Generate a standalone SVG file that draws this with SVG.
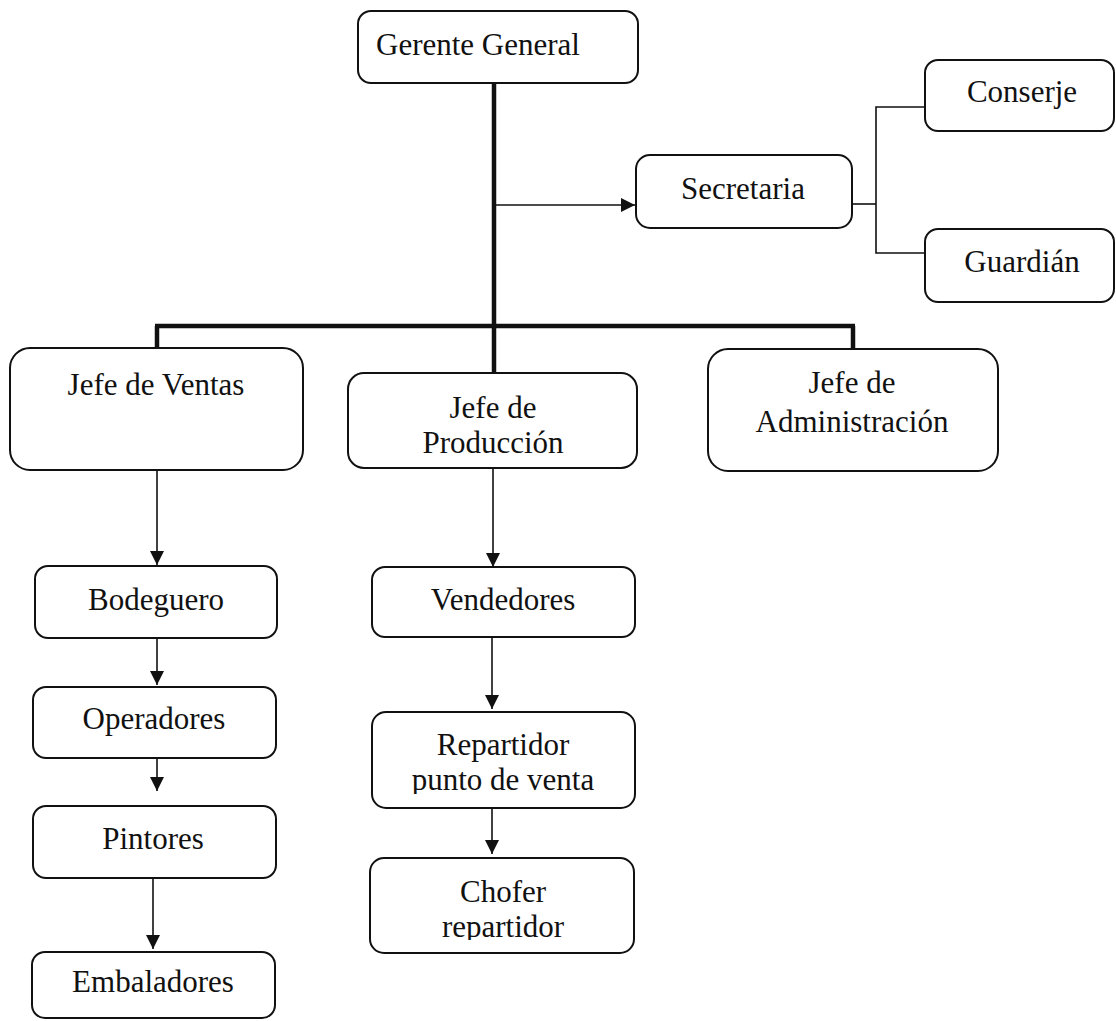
<svg xmlns="http://www.w3.org/2000/svg" width="1116" height="1021" viewBox="0 0 1116 1021">
<style>
.box{fill:#fff;stroke:#111;stroke-width:2}
.t{font-family:"Liberation Serif","Times New Roman",serif;font-size:31px;fill:#111;text-anchor:middle}
.ln{fill:none;stroke:#111;stroke-width:1.6}
.thick{fill:none;stroke:#111;stroke-width:4.5}
</style>
<defs>
<marker id="ah" markerUnits="userSpaceOnUse" markerWidth="14" markerHeight="16" refX="14" refY="7" orient="auto">
<path d="M0,0 L14,7 L0,14 Z" fill="#111"/>
</marker>
<clipPath id="clipRep"><rect x="370" y="700" width="270" height="94"/></clipPath>
<clipPath id="clipCho"><rect x="368" y="850" width="270" height="90"/></clipPath>
</defs>
<rect width="1116" height="1021" fill="#fff"/>
<g id="connectors">
<line class="thick" x1="494" y1="83" x2="494" y2="373"/>
<line class="thick" x1="155" y1="326" x2="855" y2="326"/>
<line class="thick" x1="157" y1="326" x2="157" y2="348"/>
<line class="thick" x1="853" y1="326" x2="853" y2="349"/>
<line class="ln" x1="494" y1="205" x2="635" y2="205" marker-end="url(#ah)"/>
<polyline class="ln" points="852,204 876,204"/>
<polyline class="ln" points="925,107 876,107 876,253 925,253"/>
<line class="ln" x1="157" y1="470" x2="157" y2="565" marker-end="url(#ah)"/>
<line class="ln" x1="157" y1="638" x2="157" y2="685" marker-end="url(#ah)"/>
<line class="ln" x1="157" y1="758" x2="157" y2="791" marker-end="url(#ah)"/>
<line class="ln" x1="153" y1="878" x2="153" y2="949" marker-end="url(#ah)"/>
<line class="ln" x1="493" y1="468" x2="493" y2="567" marker-end="url(#ah)"/>
<line class="ln" x1="492" y1="637" x2="492" y2="709" marker-end="url(#ah)"/>
<line class="ln" x1="492" y1="808" x2="492" y2="854" marker-end="url(#ah)"/>
</g>
<g id="gerente">
<rect class="box" x="358" y="11" width="280" height="72" rx="13"/>
<text class="t" x="478" y="55">Gerente General</text>
</g>
<g id="secretaria">
<rect class="box" x="636" y="155" width="216" height="73" rx="14"/>
<text class="t" x="743" y="199">Secretaria</text>
</g>
<g id="conserje">
<rect class="box" x="925" y="60" width="189" height="71" rx="13"/>
<text class="t" x="1022" y="102">Conserje</text>
</g>
<g id="guardian">
<rect class="box" x="925" y="229" width="189" height="73" rx="13"/>
<text class="t" x="1022" y="272">Guardián</text>
</g>
<g id="jefe-ventas">
<rect class="box" x="10" y="348" width="293" height="122" rx="20"/>
<text class="t" x="156" y="395">Jefe de Ventas</text>
</g>
<g id="jefe-produccion">
<rect class="box" x="348" y="373" width="289" height="95" rx="16"/>
<text class="t" x="493" y="418">Jefe de</text>
<text class="t" x="493" y="453">Producción</text>
</g>
<g id="jefe-administracion">
<rect class="box" x="708" y="349" width="290" height="122" rx="20"/>
<text class="t" x="852" y="393">Jefe de</text>
<text class="t" x="852" y="432">Administración</text>
</g>
<g id="bodeguero">
<rect class="box" x="35" y="566" width="242" height="72" rx="13"/>
<text class="t" x="156" y="610">Bodeguero</text>
</g>
<g id="operadores">
<rect class="box" x="33" y="687" width="243" height="71" rx="13"/>
<text class="t" x="154" y="729">Operadores</text>
</g>
<g id="pintores">
<rect class="box" x="33" y="806" width="243" height="72" rx="13"/>
<text class="t" x="153" y="849">Pintores</text>
</g>
<g id="embaladores">
<rect class="box" x="32" y="952" width="243" height="66" rx="13"/>
<text class="t" x="153" y="992">Embaladores</text>
</g>
<g id="vendedores">
<rect class="box" x="372" y="567" width="263" height="70" rx="13"/>
<text class="t" x="503" y="610">Vendedores</text>
</g>
<g id="repartidor">
<rect class="box" x="372" y="712" width="263" height="96" rx="14"/>
<g clip-path="url(#clipRep)">
<text class="t" x="503" y="755">Repartidor</text>
<text class="t" x="503" y="790">punto de venta</text>
</g>
</g>
<g id="chofer">
<rect class="box" x="370" y="858" width="264" height="95" rx="14"/>
<g clip-path="url(#clipCho)">
<text class="t" x="503" y="902">Chofer</text>
<text class="t" x="503" y="937">repartidor</text>
</g>
</g>
</svg>
